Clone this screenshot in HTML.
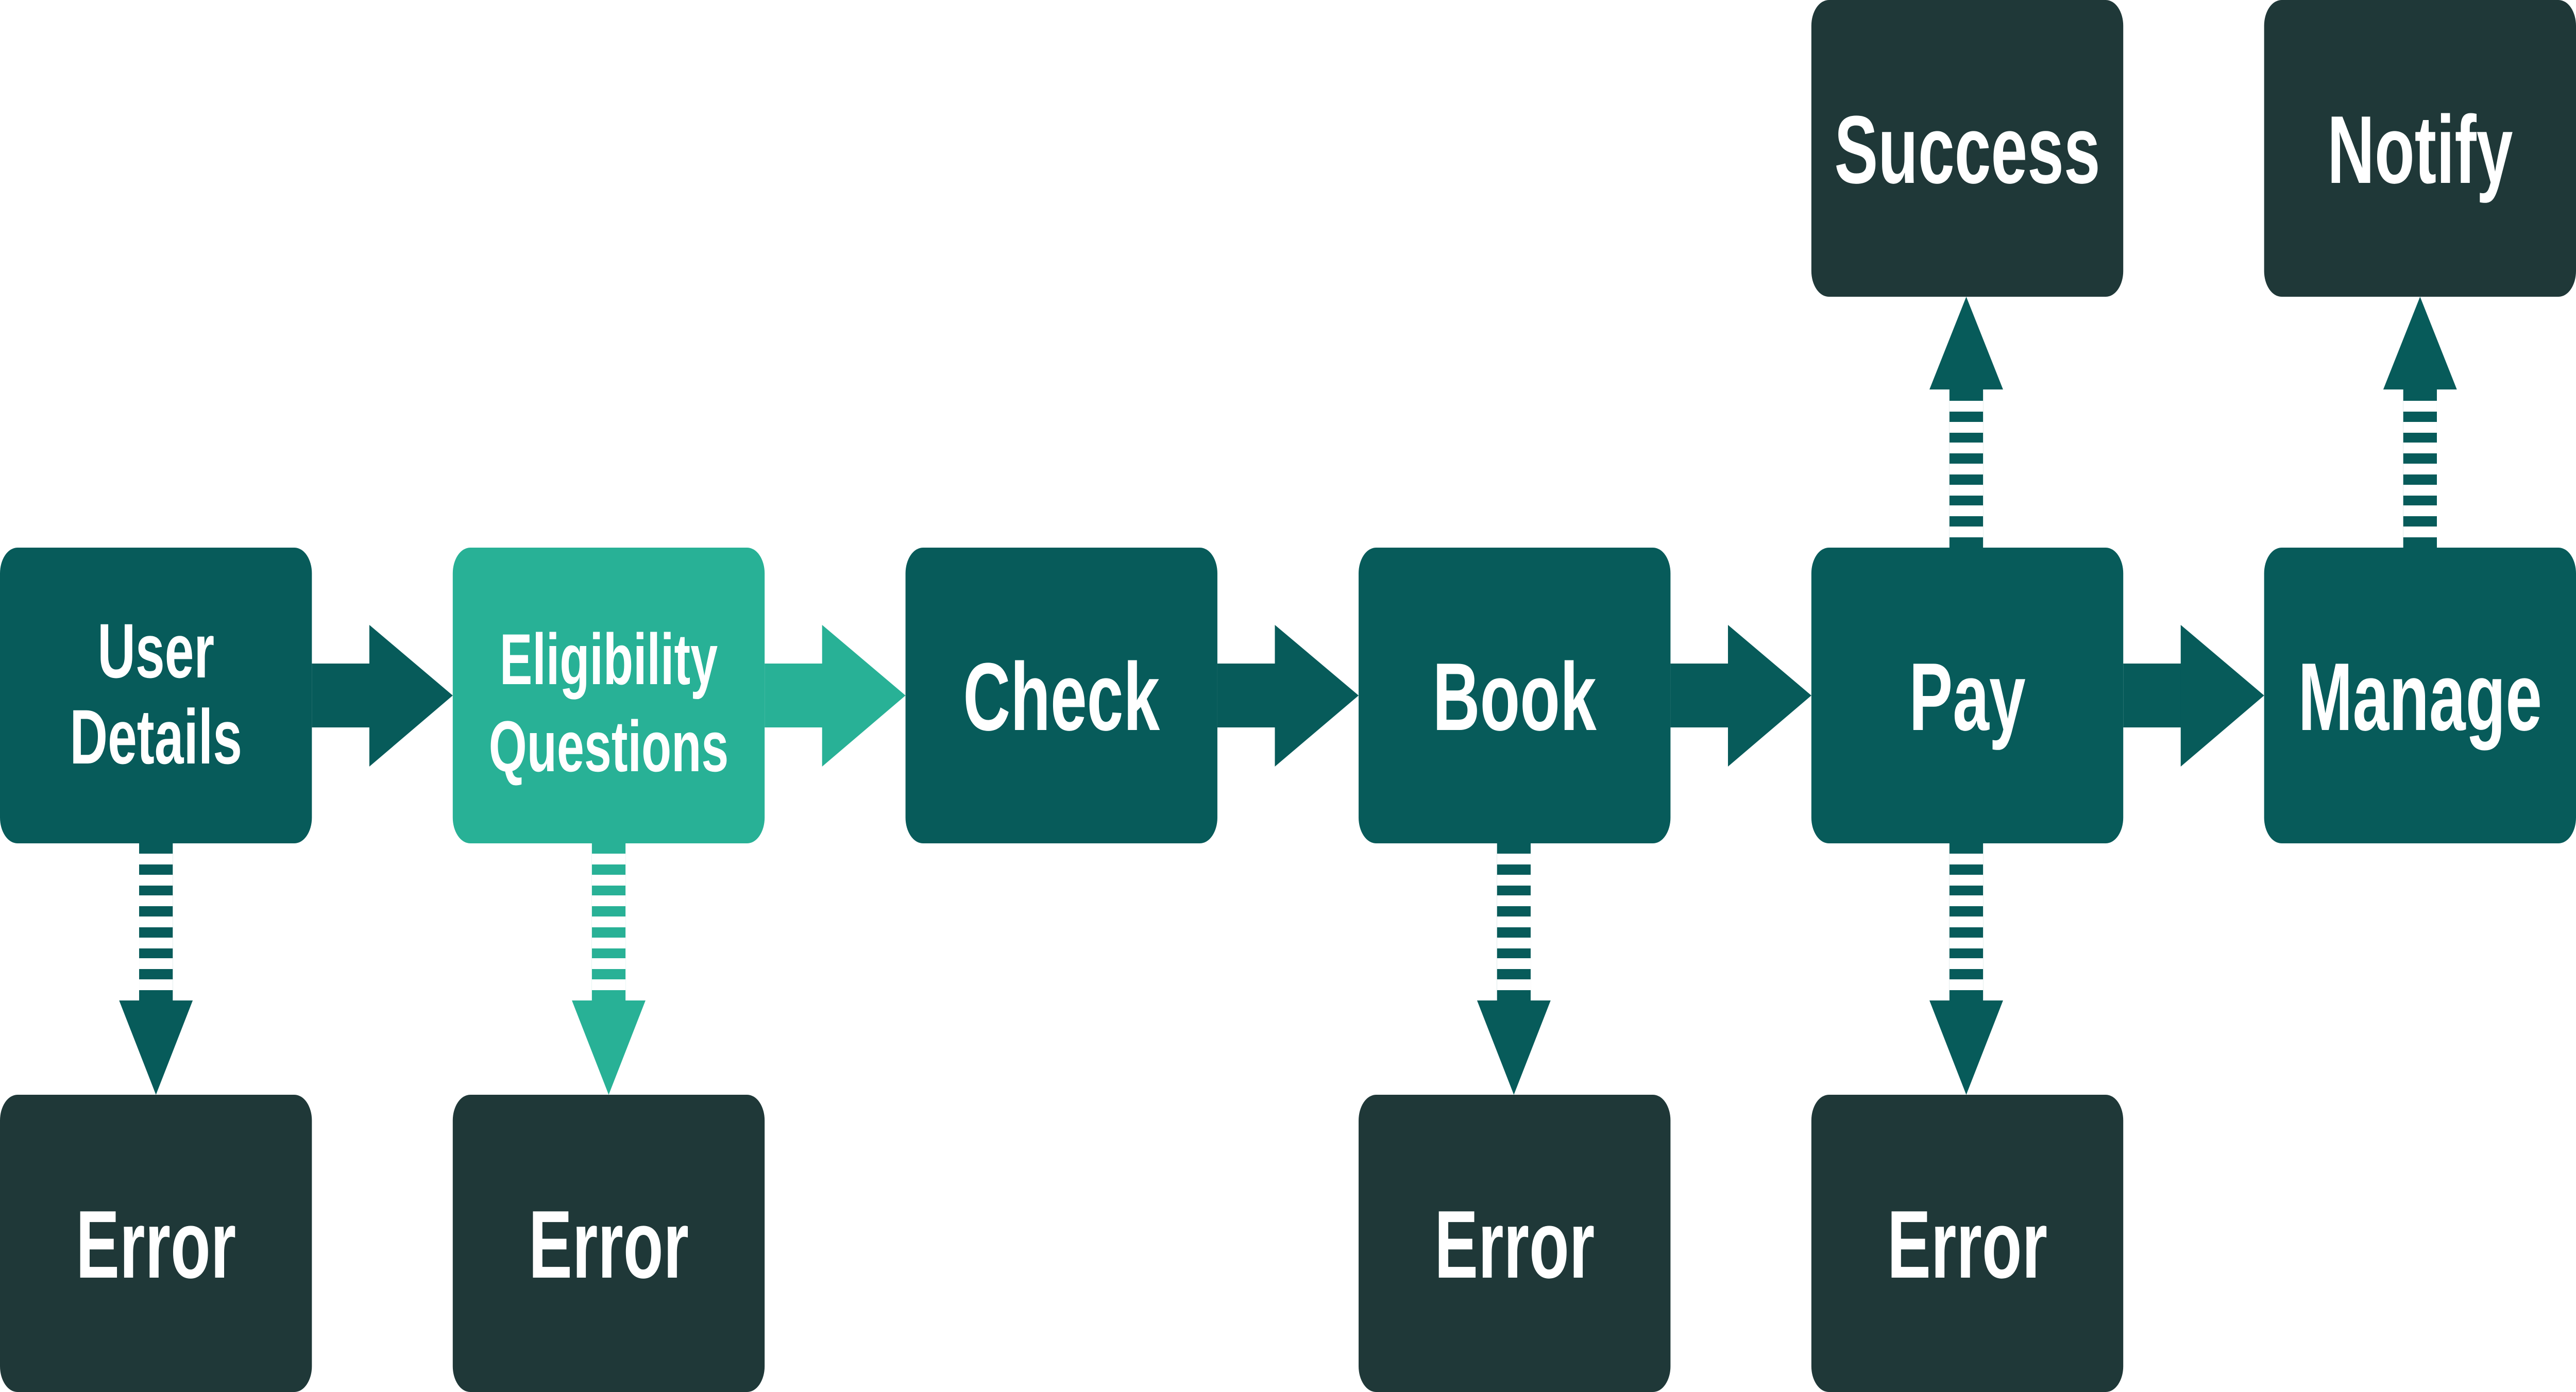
<!DOCTYPE html>
<html><head><meta charset="utf-8"><style>
html,body{margin:0;padding:0;background:#fff;width:100%;height:100%;overflow:hidden;}
svg{display:block;position:fixed;left:0;top:0;width:100vw;height:100vh;}
text{font-family:"Liberation Sans",sans-serif;font-weight:bold;fill:#fff;text-anchor:middle;}
</style></head><body>
<svg viewBox="0 0 7351 2702" preserveAspectRatio="none" xmlns="http://www.w3.org/2000/svg">
<rect x="0" y="1063" width="890" height="574" rx="50" fill="#075b5a"/>
<rect x="1292" y="1063" width="890" height="574" rx="50" fill="#28b196"/>
<rect x="2584" y="1063" width="890" height="574" rx="50" fill="#075b5a"/>
<rect x="3877" y="1063" width="890" height="574" rx="50" fill="#075b5a"/>
<rect x="5169" y="1063" width="890" height="574" rx="50" fill="#075b5a"/>
<rect x="6461" y="1063" width="890" height="574" rx="50" fill="#075b5a"/>
<rect x="5169" y="0" width="890" height="576" rx="50" fill="#1f3838"/>
<rect x="6461" y="0" width="890" height="576" rx="50" fill="#1f3838"/>
<rect x="0" y="2125" width="890" height="577" rx="50" fill="#1f3838"/>
<rect x="1292" y="2125" width="890" height="577" rx="50" fill="#1f3838"/>
<rect x="3877" y="2125" width="890" height="577" rx="50" fill="#1f3838"/>
<rect x="5169" y="2125" width="890" height="577" rx="50" fill="#1f3838"/>

<g fill="#075b5a">
<rect x="890" y="1288" width="170" height="124"/><polygon points="1054,1213 1054,1488 1292,1350"/>
</g>
<g fill="#28b196">
<rect x="2182" y="1288" width="170" height="124"/><polygon points="2346,1213 2346,1488 2584,1350"/>
</g>
<g fill="#075b5a">
<rect x="3474" y="1288" width="170" height="124"/><polygon points="3638,1213 3638,1488 3877,1350"/>
<rect x="4767" y="1288" width="170" height="124"/><polygon points="4931,1213 4931,1488 5169,1350"/>
<rect x="6059" y="1288" width="170" height="124"/><polygon points="6223,1213 6223,1488 6461,1350"/>
</g>

<g fill="#075b5a">
<rect x="397" y="1637" width="96" height="305"/><polygon points="340,1942 550,1942 445,2125"/>
<rect x="4272" y="1637" width="96" height="305"/><polygon points="4215,1942 4425,1942 4320,2125"/>
<rect x="5563" y="1637" width="96" height="305"/><polygon points="5506,1942 5716,1942 5611,2125"/>
</g>
<g fill="#28b196">
<rect x="1689" y="1637" width="96" height="305"/><polygon points="1632,1942 1842,1942 1737,2125"/>
</g>
<g fill="#fff">
<rect x="397" y="1657" width="96" height="21"/><rect x="397" y="1698" width="96" height="21"/><rect x="397" y="1738" width="96" height="21"/><rect x="397" y="1779" width="96" height="21"/><rect x="397" y="1820" width="96" height="21"/><rect x="397" y="1860" width="96" height="21"/><rect x="397" y="1901" width="96" height="21"/>
<rect x="1689" y="1657" width="96" height="21"/><rect x="1689" y="1698" width="96" height="21"/><rect x="1689" y="1738" width="96" height="21"/><rect x="1689" y="1779" width="96" height="21"/><rect x="1689" y="1820" width="96" height="21"/><rect x="1689" y="1860" width="96" height="21"/><rect x="1689" y="1901" width="96" height="21"/>
<rect x="4272" y="1657" width="96" height="21"/><rect x="4272" y="1698" width="96" height="21"/><rect x="4272" y="1738" width="96" height="21"/><rect x="4272" y="1779" width="96" height="21"/><rect x="4272" y="1820" width="96" height="21"/><rect x="4272" y="1860" width="96" height="21"/><rect x="4272" y="1901" width="96" height="21"/>
<rect x="5563" y="1657" width="96" height="21"/><rect x="5563" y="1698" width="96" height="21"/><rect x="5563" y="1738" width="96" height="21"/><rect x="5563" y="1779" width="96" height="21"/><rect x="5563" y="1820" width="96" height="21"/><rect x="5563" y="1860" width="96" height="21"/><rect x="5563" y="1901" width="96" height="21"/>
</g>

<g fill="#075b5a">
<rect x="5563" y="756" width="96" height="307"/><polygon points="5506,756 5716,756 5611,576"/>
<rect x="6858" y="756" width="96" height="307"/><polygon points="6801,756 7011,756 6906,576"/>
</g>
<g fill="#fff">
<rect x="5563" y="778" width="96" height="21"/><rect x="5563" y="819" width="96" height="21"/><rect x="5563" y="859" width="96" height="21"/><rect x="5563" y="900" width="96" height="21"/><rect x="5563" y="941" width="96" height="21"/><rect x="5563" y="981" width="96" height="21"/><rect x="5563" y="1022" width="96" height="21"/>
<rect x="6858" y="778" width="96" height="21"/><rect x="6858" y="819" width="96" height="21"/><rect x="6858" y="859" width="96" height="21"/><rect x="6858" y="900" width="96" height="21"/><rect x="6858" y="941" width="96" height="21"/><rect x="6858" y="981" width="96" height="21"/><rect x="6858" y="1022" width="96" height="21"/>
</g>

<text x="445" y="1315" font-size="150">User</text>
<text x="445" y="1482" font-size="150">Details</text>
<text x="1737" y="1328" font-size="140">Eligibility</text>
<text x="1737" y="1497" font-size="140">Questions</text>
<text x="3029" y="1417" font-size="187">Check</text>
<text x="4322" y="1417" font-size="187">Book</text>
<text x="5614" y="1417" font-size="187">Pay</text>
<text x="6906" y="1417" font-size="187">Manage</text>
<text x="5614" y="355" font-size="187">Success</text>
<text x="6906" y="355" font-size="187">Notify</text>
<text x="445" y="2480" font-size="187">Error</text>
<text x="1737" y="2480" font-size="187">Error</text>
<text x="4322" y="2480" font-size="187">Error</text>
<text x="5614" y="2480" font-size="187">Error</text>
</svg>
</body></html>
